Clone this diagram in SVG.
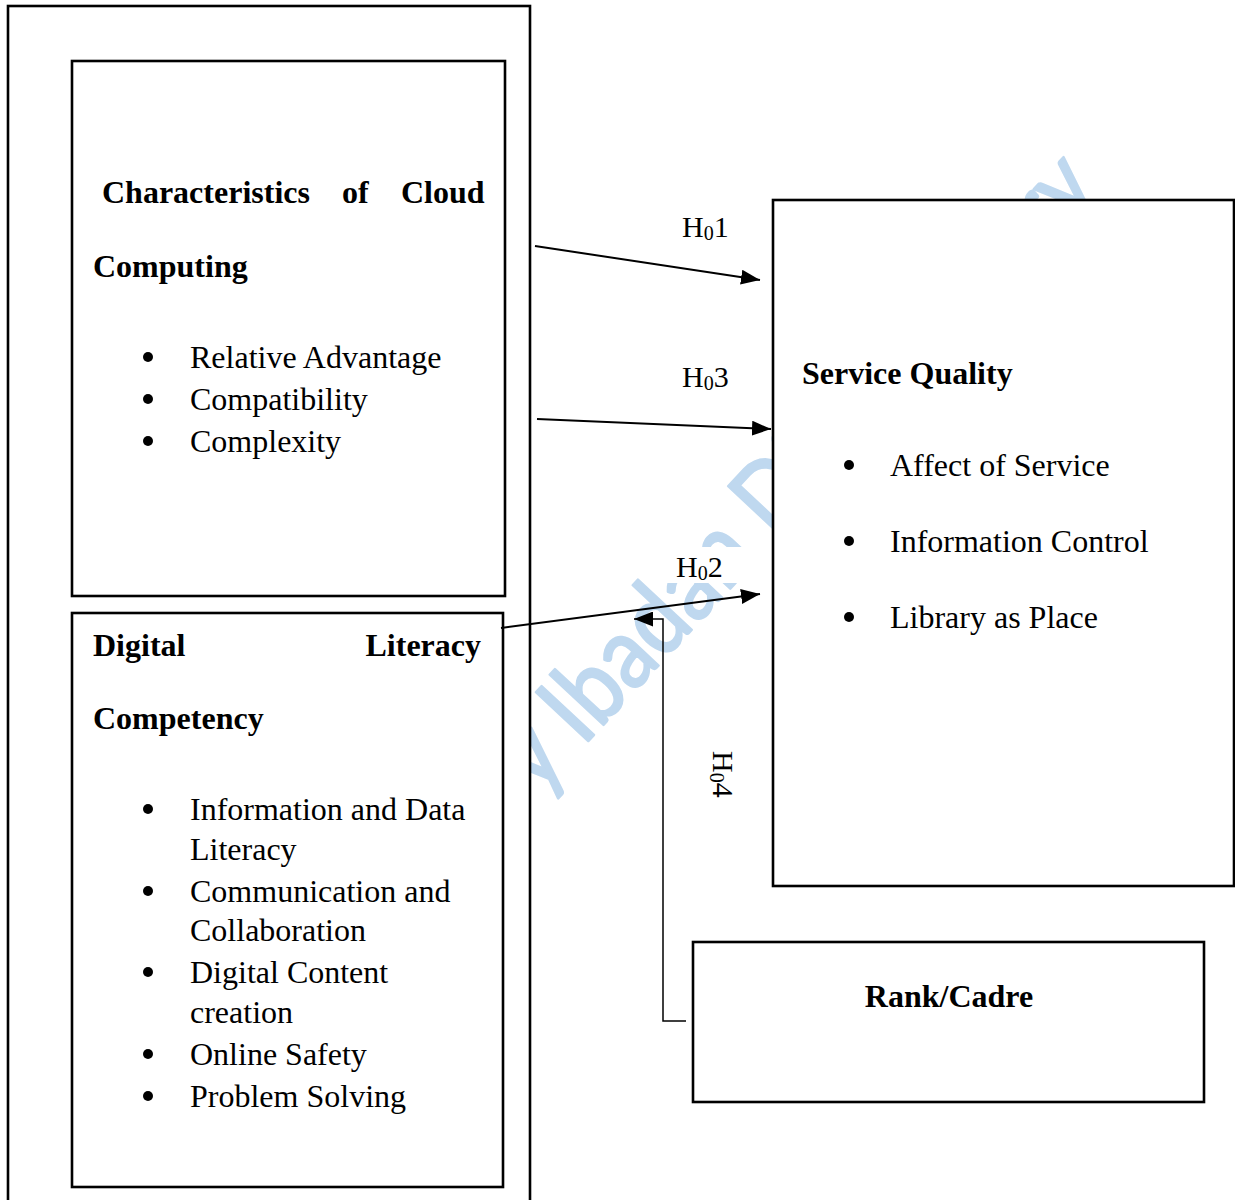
<svg xmlns="http://www.w3.org/2000/svg" width="1235" height="1200" viewBox="0 0 1235 1200">
  <defs>
    <marker id="arrow" markerUnits="userSpaceOnUse" markerWidth="19" markerHeight="15" refX="19" refY="7.5" orient="auto">
      <path d="M0,0 L19,7.5 L0,15 z" fill="#000"/>
    </marker>
    <style>
      .box { fill: #fff; stroke: #000; stroke-width: 2.6; }
      .head { font-family: "Liberation Serif", "Times New Roman", serif; font-weight: bold; font-size: 32px; fill: #000; }
      .item { font-family: "Liberation Serif", "Times New Roman", serif; font-size: 32px; fill: #000; }
      .hyp { font-family: "Liberation Serif", "Times New Roman", serif; font-size: 30px; fill: #000; }
      .sub { font-size: 20px; }
      .dot { fill: #000; }
      .conn { fill: none; stroke: #000; stroke-width: 2; }
      .conn-thin { fill: none; stroke: #000; stroke-width: 1.5; }
      .mark { font-family: Lato, "Open Sans", sans-serif; font-size: 100px; fill: #bfd8ef; stroke: #bfd8ef; stroke-width: 2.5; stroke-linejoin: round; }
      .lbl-bg { fill: #fff; }
    </style>
  </defs>

  <rect width="1235" height="1200" fill="#fff"/>

  <!-- repository watermark, drawn first so the boxes sit over it -->
  <g id="watermark">
    <text class="mark" transform="translate(538,795) rotate(-47) scale(0.88,1)">y Ibadan Digital<tspan dx="-45">Library</tspan></text>
  </g>

  <!-- independent variables frame -->
  <g id="independent-frame">
    <rect class="box" x="8" y="6" width="522" height="1214"/>
  </g>

  <g id="cloud-computing">
    <rect class="box" x="72" y="61" width="433" height="535"/>
    <text class="head" x="102" y="203">Characteristics</text>
    <text class="head" x="342" y="203">of</text>
    <text class="head" x="401" y="203">Cloud</text>
    <text class="head" x="93" y="277">Computing</text>
    <circle class="dot" cx="148" cy="357" r="5"/>
    <text class="item" x="190" y="368">Relative Advantage</text>
    <circle class="dot" cx="148" cy="399" r="5"/>
    <text class="item" x="190" y="410">Compatibility</text>
    <circle class="dot" cx="148" cy="441" r="5"/>
    <text class="item" x="190" y="452">Complexity</text>
  </g>

  <g id="digital-literacy">
    <rect class="box" x="72" y="613" width="431" height="574"/>
    <text class="head" x="93" y="656">Digital</text>
    <text class="head" x="481" y="656" text-anchor="end">Literacy</text>
    <text class="head" x="93" y="729">Competency</text>
    <circle class="dot" cx="148" cy="809" r="5"/>
    <text class="item" x="190" y="820">Information and Data</text>
    <text class="item" x="190" y="860">Literacy</text>
    <circle class="dot" cx="148" cy="891" r="5"/>
    <text class="item" x="190" y="902">Communication and</text>
    <text class="item" x="190" y="941">Collaboration</text>
    <circle class="dot" cx="148" cy="972" r="5"/>
    <text class="item" x="190" y="983">Digital Content</text>
    <text class="item" x="190" y="1023">creation</text>
    <circle class="dot" cx="148" cy="1054" r="5"/>
    <text class="item" x="190" y="1065">Online Safety</text>
    <circle class="dot" cx="148" cy="1096" r="5"/>
    <text class="item" x="190" y="1107">Problem Solving</text>
  </g>

  <g id="service-quality">
    <rect class="box" x="773" y="200" width="461" height="686"/>
    <text class="head" x="802" y="384">Service Quality</text>
    <circle class="dot" cx="849" cy="465" r="5"/>
    <text class="item" x="890" y="476">Affect of Service</text>
    <circle class="dot" cx="849" cy="541" r="5"/>
    <text class="item" x="890" y="552">Information Control</text>
    <circle class="dot" cx="849" cy="617" r="5"/>
    <text class="item" x="890" y="628">Library as Place</text>
  </g>

  <g id="rank-cadre">
    <rect class="box" x="693" y="942" width="511" height="160"/>
    <text class="head" x="949" y="1007" text-anchor="middle">Rank/Cadre</text>
  </g>

  <!-- hypothesis paths -->
  <g id="connectors">
    <line class="conn" x1="535" y1="246" x2="760" y2="280" marker-end="url(#arrow)"/>
    <line class="conn" x1="537" y1="419" x2="771" y2="429" marker-end="url(#arrow)"/>
    <line class="conn" x1="501" y1="628" x2="760" y2="594" marker-end="url(#arrow)"/>
    <polyline class="conn-thin" points="686,1021 663,1021 663,619 634,619" marker-end="url(#arrow)"/>
  </g>

  <!-- hypothesis labels -->
  <g id="label-h01">
    <rect class="lbl-bg" x="672" y="206" width="66" height="40"/>
    <text class="hyp" x="682" y="237">H<tspan class="sub" dy="3">0</tspan><tspan dy="-3">1</tspan></text>
  </g>
  <g id="label-h03">
    <rect class="lbl-bg" x="672" y="356" width="66" height="40"/>
    <text class="hyp" x="682" y="387">H<tspan class="sub" dy="3">0</tspan><tspan dy="-3">3</tspan></text>
  </g>
  <g id="label-h02">
    <rect class="lbl-bg" x="667" y="547" width="95" height="36"/>
    <text class="hyp" x="676" y="577">H<tspan class="sub" dy="3">0</tspan><tspan dy="-3">2</tspan></text>
  </g>
  <g id="label-h04">
    <text class="hyp" transform="translate(713,751) rotate(90)">H<tspan class="sub" dy="3">0</tspan><tspan dy="-3">4</tspan></text>
  </g>
</svg>
